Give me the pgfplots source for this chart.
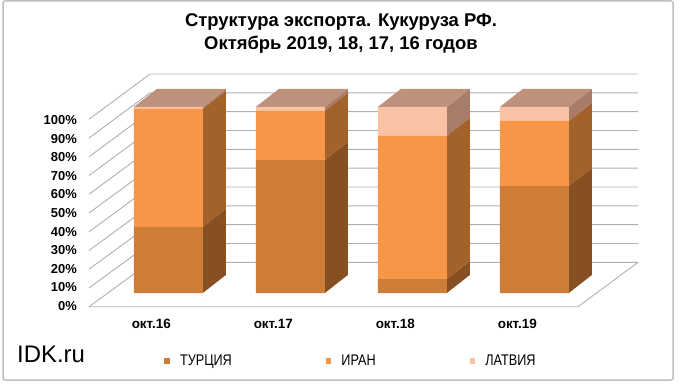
\documentclass[border=0pt]{standalone}
\usepackage{pgfplots}
\pgfplotsset{compat=1.18}
\usepackage{fontspec}
\setmainfont{Liberation Sans}
\newfontfamily\narrowfont[FakeStretch=0.82]{Liberation Sans}
\definecolor{tFront}{RGB}{205,125,56}
\definecolor{iFront}{RGB}{247,150,70}
\definecolor{lFront}{RGB}{250,194,164}
\definecolor{tSide}{RGB}{134,80,35}
\definecolor{iSide}{RGB}{163,98,42}
\definecolor{lSide}{RGB}{168,124,104}
\definecolor{topFace}{RGB}{189,145,123}
\definecolor{wallgray}{RGB}{175,175,175}
\definecolor{framegray}{RGB}{191,191,191}
\begin{document}
\begin{tikzpicture}[x=1bp,y=1bp]
\path[use as bounding box] (0,0) rectangle (680,385);
\draw[framegray, line width=1.5bp, rounded corners=2bp] (3,5) rectangle (673,384);
% walls and floor
\foreach \k in {0,...,10} {
  \draw[wallgray, line width=0.9bp] (89,{78.3+18.74*\k}) -- (150,{122.7+18.83*\k}) -- (638,{122.7+18.83*\k});
}
\draw[wallgray, line width=0.9bp] (89,78.3) -- (578,78.3) -- (638,122.7);
% title and logo
\node[font=\bfseries\fontsize{18.5}{23}\selectfont, align=center] at (341,351.5) {Структура экспорта. Кукуруза РФ.\\Октябрь 2019, 18, 17, 16 годов};
\node[font=\fontsize{24}{24}\selectfont, anchor=west, inner sep=0pt] at (17,31) {IDK.ru};
% 3D faces of the bars
\begin{axis}[at={(89bp,92bp)}, anchor=south west, scale only axis,
  width=524.6bp, height=186bp, xmin=-0.65, xmax=3.65, ymin=0, ymax=100,
  hide axis, clip=false]
% oct.16: 35.5 / 63.5 / 1.0
\addplot[draw=none, fill=tSide] coordinates {(0.283,0) (0.4715,9.68) (0.4715,45.18) (0.283,35.5)};
\addplot[draw=none, fill=iSide] coordinates {(0.283,35.5) (0.4715,45.18) (0.4715,108.68) (0.283,99)};
\addplot[draw=none, fill=lSide] coordinates {(0.283,99) (0.4715,108.68) (0.4715,109.68) (0.283,100)};
\addplot[draw=none, fill=topFace] coordinates {(-0.283,100) (0.283,100) (0.4715,109.68) (-0.0945,109.68)};
% oct.17: 71.5 / 26.5 / 2.0
\addplot[draw=none, fill=tSide] coordinates {(1.283,0) (1.4715,9.68) (1.4715,81.18) (1.283,71.5)};
\addplot[draw=none, fill=iSide] coordinates {(1.283,71.5) (1.4715,81.18) (1.4715,107.68) (1.283,98)};
\addplot[draw=none, fill=lSide] coordinates {(1.283,98) (1.4715,107.68) (1.4715,109.68) (1.283,100)};
\addplot[draw=none, fill=topFace] coordinates {(0.717,100) (1.283,100) (1.4715,109.68) (0.9055,109.68)};
% oct.18: 7.5 / 77.0 / 15.5
\addplot[draw=none, fill=tSide] coordinates {(2.283,0) (2.4715,9.68) (2.4715,17.18) (2.283,7.5)};
\addplot[draw=none, fill=iSide] coordinates {(2.283,7.5) (2.4715,17.18) (2.4715,94.18) (2.283,84.5)};
\addplot[draw=none, fill=lSide] coordinates {(2.283,84.5) (2.4715,94.18) (2.4715,109.68) (2.283,100)};
\addplot[draw=none, fill=topFace] coordinates {(1.717,100) (2.283,100) (2.4715,109.68) (1.9055,109.68)};
% oct.19: 57.5 / 35.0 / 7.5
\addplot[draw=none, fill=tSide] coordinates {(3.283,0) (3.4715,9.68) (3.4715,67.18) (3.283,57.5)};
\addplot[draw=none, fill=iSide] coordinates {(3.283,57.5) (3.4715,67.18) (3.4715,102.18) (3.283,92.5)};
\addplot[draw=none, fill=lSide] coordinates {(3.283,92.5) (3.4715,102.18) (3.4715,109.68) (3.283,100)};
\addplot[draw=none, fill=topFace] coordinates {(2.717,100) (3.283,100) (3.4715,109.68) (2.9055,109.68)};
\end{axis}
% front faces
\begin{axis}[at={(89bp,92bp)}, anchor=south west, scale only axis,
  width=524.6bp, height=186bp, xmin=-0.65, xmax=3.65, ymin=0, ymax=100,
  ybar stacked, bar width=69bp,
  axis x line*=bottom, axis y line*=left, axis line style={draw=none},
  major tick length=0pt,
  xtick={0,1,2,3}, xticklabels={окт.16,окт.17,окт.18,окт.19},
  ytick={0,10,...,100},
  yticklabel={\pgfmathprintnumber{\tick}\%},
  /pgf/number format/assume math mode=true,
  xticklabel style={font=\bfseries\fontsize{13.5}{13.5}\selectfont, anchor=center, inner sep=0pt, yshift=-31bp, xshift=-17bp},
  yticklabel style={font=\bfseries\fontsize{13}{13}\selectfont, anchor=east, inner sep=0pt, xshift=-12bp, yshift=-13bp},
  legend style={at={(axis description cs:0.4994,-0.3656)}, anchor=center, draw=none, fill=none,
    legend columns=3, font=\narrowfont\fontsize{15.5}{15.5}\selectfont,
    /tikz/every odd column/.append style={column sep=8bp},
    /tikz/every even column/.append style={column sep=92bp}},
  legend image code/.code={\fill[#1] (0bp,-2.8bp) rectangle (5.6bp,2.8bp);},
  clip=false]
\addplot[draw=none, fill=tFront] coordinates {(0,35.5) (1,71.5) (2,7.5) (3,57.5)};
\addplot[draw=none, fill=iFront] coordinates {(0,63.5) (1,26.5) (2,77.0) (3,35.0)};
\addplot[draw=none, fill=lFront] coordinates {(0,1.0) (1,2.0) (2,15.5) (3,7.5)};
\legend{ТУРЦИЯ, ИРАН, ЛАТВИЯ}
\end{axis}
\end{tikzpicture}
\end{document}
